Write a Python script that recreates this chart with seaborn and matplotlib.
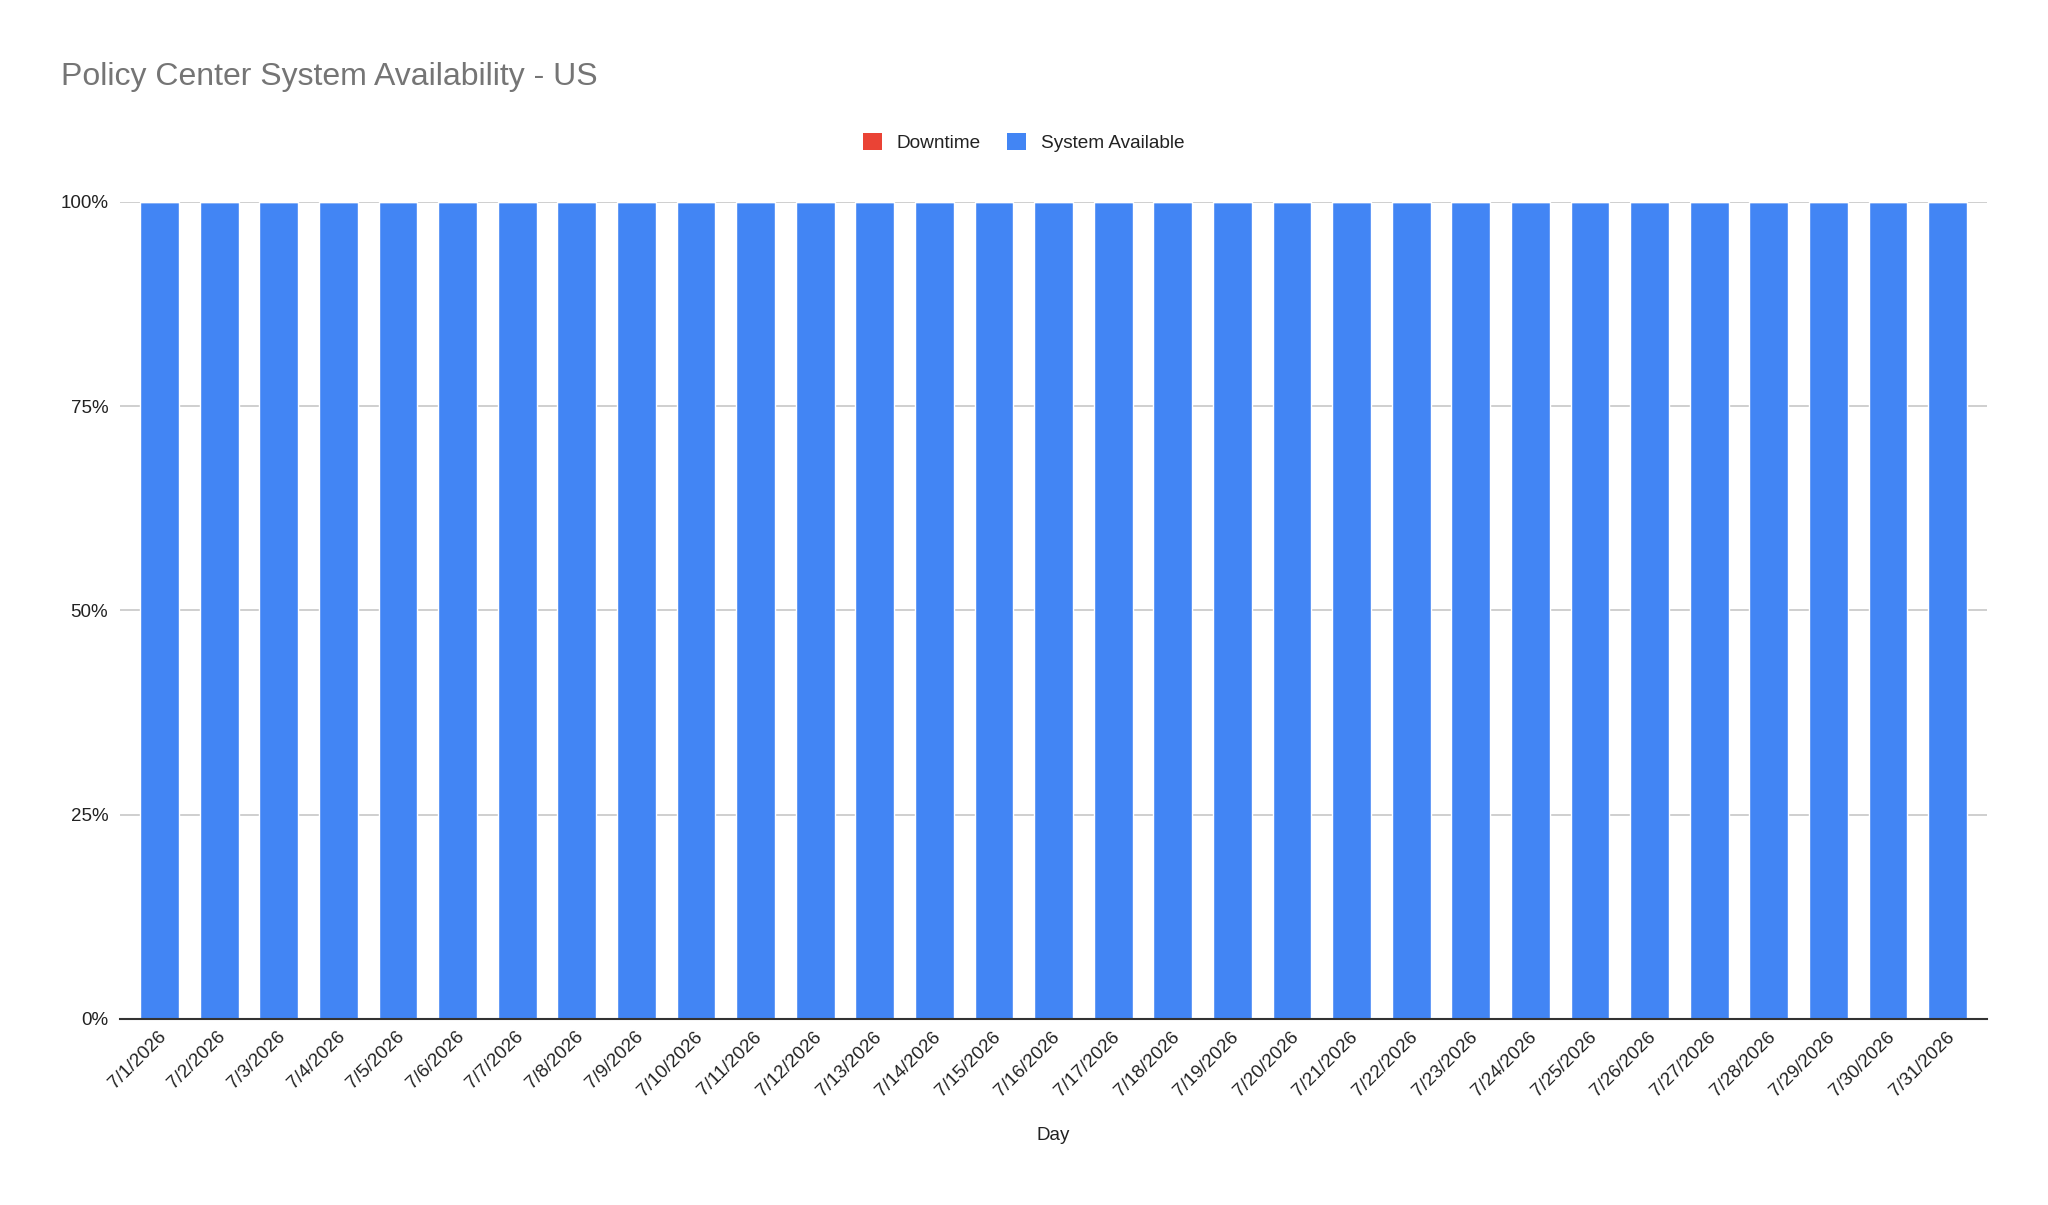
import pandas as pd
import matplotlib.pyplot as plt
import matplotlib.transforms as mtransforms
import seaborn as sns
from matplotlib.patches import Patch
from matplotlib.ticker import PercentFormatter

sns.set_style('white')
plt.rcParams['font.family'] = ['Liberation Sans', 'DejaVu Sans']

days = [f'7/{d}/2026' for d in range(1, 32)]
available = [100] * 31
downtime = [0] * 31

data = pd.DataFrame({'day': days, 'available': available, 'downtime': downtime})

blue = '#4285F4'
red = '#EA4335'
txt = '#222222'

fig = plt.figure(figsize=(20.48, 12.05), dpi=100)
ax = fig.add_axes([0.0586, 0.1544, 0.9116, 0.678])

sns.barplot(data=data, x='day', y='available', color=blue, width=0.65,
            saturation=1, ax=ax, zorder=2)
sns.barplot(data=data, x='day', y='downtime', color=red, width=0.65,
            saturation=1, ax=ax, bottom=data['available'].values, zorder=2)

ax.set_ylim(0, 100)
ax.set_xlim(-0.663, 30.66)
ax.set_yticks([0, 25, 50, 75, 100])
ax.yaxis.set_major_formatter(PercentFormatter(decimals=0))
ax.grid(axis='y', color='#cccccc', linewidth=1.3, zorder=0)
ax.set_axisbelow(True)

sns.despine(ax=ax, left=True, top=True, right=True)
ax.spines['bottom'].set_color('#333333')
ax.spines['bottom'].set_linewidth(1.5)
ax.spines['bottom'].set_zorder(3)

ax.tick_params(axis='y', length=0, labelsize=13.5, colors=txt, pad=8.5)
ax.tick_params(axis='x', length=0, labelsize=13.5, colors=txt, pad=11)
shift = mtransforms.ScaledTranslation(4 / 100, 0, fig.dpi_scale_trans)
for lbl in ax.get_xticklabels():
    lbl.set_rotation(45)
    lbl.set_ha('right')
    lbl.set_va('center')
    lbl.set_rotation_mode('anchor')
    lbl.set_transform(lbl.get_transform() + shift)

ax.set_ylabel('')
ax.set_xlabel('Day', fontsize=13.5, color=txt)
ax.xaxis.set_label_coords(0.5, -0.148)
ax.xaxis.label.set_va('baseline')

fig.text(0.0298, 0.9295, 'Policy Center System Availability - US',
         fontsize=23, color='#757575', va='baseline', ha='left')

handles = [Patch(facecolor=red, edgecolor='none', label='Downtime'),
           Patch(facecolor=blue, edgecolor='none', label='System Available')]
leg = fig.legend(handles=handles, loc='center', bbox_to_anchor=(0.4998, 0.8817),
                 ncol=2, frameon=False, fontsize=13.7, handlelength=1.0,
                 handleheight=1.0, handletextpad=0.74, columnspacing=1.42)
for t in leg.get_texts():
    t.set_color(txt)

fig.savefig('out.png', dpi=100)
